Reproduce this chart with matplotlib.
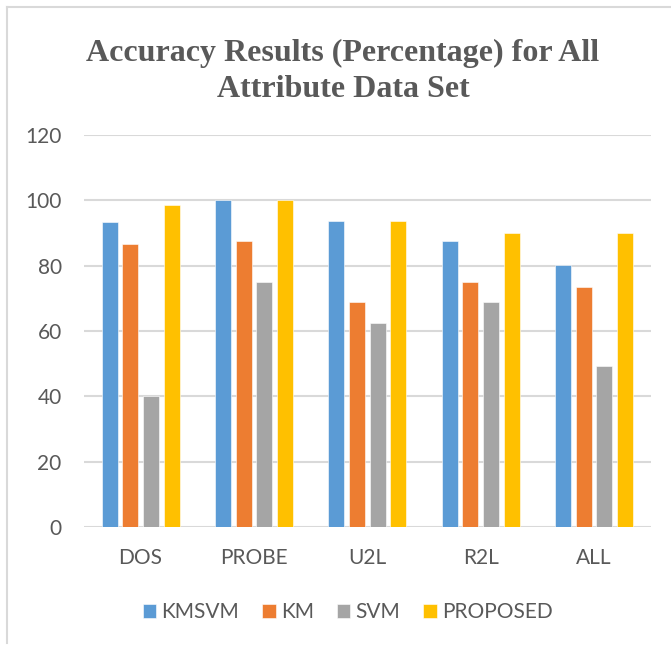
import numpy as np
import matplotlib
matplotlib.use("Agg")
import matplotlib.pyplot as plt
from matplotlib.lines import Line2D

categories = ["DOS", "PROBE", "U2L", "R2L", "ALL"]
kmsvm = [93.3, 100, 93.75, 87.5, 80.3]
km = [86.7, 87.5, 68.75, 75, 73.3]
svm = [40, 75, 62.5, 68.75, 49.2]
proposed = [98.5, 100, 93.75, 90, 90]

series = [("KMSVM", kmsvm, "#5B9BD5"),
          ("KM", km, "#ED7D31"),
          ("SVM", svm, "#A5A5A5"),
          ("PROPOSED", proposed, "#FFC000")]


def main():
    plt.rcParams['font.family'] = ['Lato', 'DejaVu Sans']
    fig = plt.figure(figsize=(6.71, 6.45), dpi=100)
    ax = fig.add_axes([0.125, 0.183, 0.845, 0.608])

    x = np.arange(len(categories))
    step = 0.182
    width = 0.141
    for i, (name, vals, col) in enumerate(series):
        ax.bar(x + (i - 1.5) * step, vals, width, color=col, label=name,
               edgecolor="white", linewidth=0.4, zorder=3)

    ax.set_xlim(-0.5, len(categories) - 0.5)
    ax.set_ylim(0, 120)
    ax.set_yticks(np.arange(0, 121, 20))
    ax.set_xticks(x)
    ax.set_xticklabels(categories)
    ax.tick_params(axis="both", length=0, labelsize=15, labelcolor="#595959")
    ax.tick_params(axis="x", pad=15)
    ax.tick_params(axis="y", pad=16)
    ax.grid(axis="y", color="#D9D9D9", linewidth=1.5, zorder=0)
    for s in ax.spines.values():
        s.set_visible(False)

    # title (serif bold, two lines)
    fig.text(0.511, 0.889, "Accuracy Results (Percentage) for All\nAttribute Data Set",
             ha="center", va="center", fontsize=23, fontweight="bold",
             family="Liberation Serif", color="#595959", linespacing=1.35)

    fig.legend(loc="center", bbox_to_anchor=(0.518, 0.051), ncol=4, frameon=False,
               fontsize=15, labelcolor="#595959", handlelength=0.65,
               handleheight=0.65, handletextpad=0.25, columnspacing=1.1)

    # chart border, only left and top edges are visible
    fig.add_artist(Line2D([0.0105, 0.0105], [0.003, 0.989], transform=fig.transFigure,
                          color="#D9D9D9", linewidth=1.5))
    fig.add_artist(Line2D([0.0105, 1.0], [0.989, 0.989], transform=fig.transFigure,
                          color="#D9D9D9", linewidth=1.5))

    fig.savefig("out.png", dpi=100)


if __name__ == "__main__":
    main()
